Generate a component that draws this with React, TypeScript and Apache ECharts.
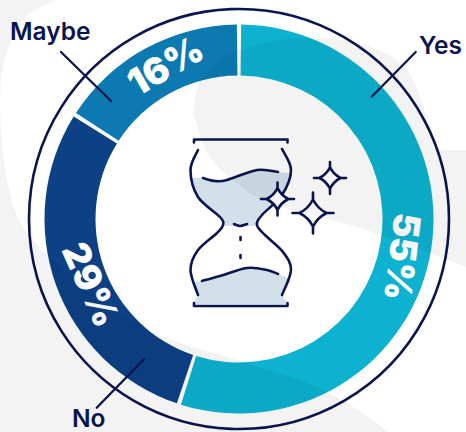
import React, { useEffect, useRef } from "react";
import * as echarts from "echarts";

const categories = ["Yes", "No", "Maybe"];
const shares = [55, 29, 16];
const sliceColors = ["#0cb2d0", "#0c4186", "#0c7ab1"];
const labelTurns = [-97, -66, 30];
const labelNudges = [[-6, 11], [14, 7], [9, -3]];

const INK = "#0b1650";
const SAND = "#d2e0ea";
const VEIL = "rgba(0,0,0,0.047)";

type Pt = [number, number];

// Catmull-Rom curve through the points, as SVG path data.
function curve(points: Pt[], closed = false): string {
  const n = points.length;
  const at = (i: number): Pt => (closed ? points[(i + n) % n] : points[Math.max(0, Math.min(n - 1, i))]);
  let d = `M${points[0][0]} ${points[0][1]}`;
  const last = closed ? n : n - 1;
  for (let i = 0; i < last; i++) {
    const [p0, p1, p2, p3] = [at(i - 1), at(i), at(i + 1), at(i + 2)];
    d += `C${p1[0] + (p2[0] - p0[0]) / 6} ${p1[1] + (p2[1] - p0[1]) / 6} ${p2[0] - (p3[0] - p1[0]) / 6} ${p2[1] - (p3[1] - p1[1]) / 6} ${p2[0]} ${p2[1]}`;
  }
  return closed ? d + "Z" : d;
}
const tail = (points: Pt[]) => curve(points).replace(/^M[^C]*/, "");

// Four-pointed sparkle: concave outline with thin tips.
function sparkle(cx: number, cy: number, r: number): string {
  const k = 0.66 * r;
  const c = 0.22 * r;
  return (
    `M${cx} ${cy - r}L${cx} ${cy - k}Q${cx + c} ${cy - c} ${cx + k} ${cy}L${cx + r} ${cy}L${cx + k} ${cy}` +
    `Q${cx + c} ${cy + c} ${cx} ${cy + k}L${cx} ${cy + r}L${cx} ${cy + k}` +
    `Q${cx - c} ${cy + c} ${cx - k} ${cy}L${cx - r} ${cy}L${cx - k} ${cy}` +
    `Q${cx - c} ${cy - c} ${cx} ${cy - k}Z`
  );
}

// Soft grey backdrop washes, laid over the whole drawing.
const washUpper =
  curve([[193, 112], [200, 80], [218, 63], [240, 50], [297, 38], [363, 45], [407, 70], [430, 127], [437, 150]]) +
  "L466 150L466 267" +
  tail([[466, 267], [360, 228], [270, 203], [233, 180], [207, 153], [193, 112]]) +
  "Z";
const washLower =
  "M0 0L55 0" +
  tail([[55, 0], [23, 20], [3, 67], [1, 130], [10, 193], [27, 233], [73, 277], [143, 328], [240, 361], [299, 380], [329, 393], [366, 415], [388, 432]]) +
  "L0 432Z";

// Hourglass drawing.
const glassLeft: Pt[] = [[198, 150], [190.5, 170], [198, 197], [220, 217], [223, 225], [217, 233], [198, 250], [190.5, 270], [198, 295]];
const glassRight: Pt[] = [[282, 149], [291, 170], [282, 195], [262, 215], [257, 225], [265, 235], [283, 252], [291, 270], [282, 295]];
const waveTop: Pt[] = [[203, 178], [215, 181], [227, 180], [257, 170], [278, 172]];
const waveBottom: Pt[] = [[202, 281], [220, 276], [247, 268], [267, 270], [278, 274]];
const sandTop =
  "M192 178L203 178" +
  tail(waveTop) +
  "L288 173" +
  tail([[288, 173], [291, 175], [282, 195], [262, 215], [257, 225], [248, 226]]) +
  "L233 226" +
  tail([[233, 226], [223, 225], [220, 217], [198, 197], [192, 178]]) +
  "Z";
const sandBottom =
  "M192 282L202 281" +
  tail(waveBottom) +
  "L288 278L291 280L282 295L288 304L193 304L198 295L191 280Z";

const glassOutline =
  curve(glassLeft) +
  curve(glassRight) +
  "M194 142.5L194 139.5L287.5 139.5L287.5 142.5" +
  "M194 303L194 306L287.5 306L287.5 303" +
  curve(waveTop) +
  curve(waveBottom) +
  curve([[234, 224], [240, 226], [247, 224]]) +
  "M240.5 237L240.5 240M240.5 255L240.5 258";

const stars = [sparkle(277.5, 199, 16.5), sparkle(330, 178, 16), sparkle(313, 213, 20.5)];

echarts.graphic.registerShape("washUpper", echarts.graphic.extendPath(washUpper, {}));
echarts.graphic.registerShape("washLower", echarts.graphic.extendPath(washLower, {}));
echarts.graphic.registerShape("sandTop", echarts.graphic.extendPath(sandTop, {}));
echarts.graphic.registerShape("sandBottom", echarts.graphic.extendPath(sandBottom, {}));
echarts.graphic.registerShape("glassOutline", echarts.graphic.extendPath(glassOutline, {}));
stars.forEach((d, i) => echarts.graphic.registerShape(`star${i}`, echarts.graphic.extendPath(d, {})));

const outerLabels = [
  { text: "Yes", x: 419, y: 57.5, from: [415.7, 52], to: [371.7, 96.7] },
  { text: "No", x: 72, y: 430, from: [96.7, 407.7], to: [144, 359.3] },
  { text: "Maybe", x: 10, y: 43.5, from: [61, 52], to: [111, 101] },
];

const stroke = { stroke: INK, lineWidth: 2.6, lineCap: "round", lineJoin: "round" };

// The layout offset acts in the rotated frame of a label, so turn the page offset back.
function labelOffset(index: number) {
  const [dx, dy] = labelNudges[index];
  const t = (labelTurns[index] * Math.PI) / 180;
  return { dx: dx * Math.cos(t) - dy * Math.sin(t), dy: dx * Math.sin(t) + dy * Math.cos(t) };
}

export default function App() {
  const ref = useRef<HTMLDivElement>(null);

  useEffect(() => {
    document.body.style.margin = "0";
    const chart = echarts.init(ref.current!, null, { renderer: "svg" });
    chart.setOption({
      animation: false,
      backgroundColor: "#ffffff",
      series: [
        {
          type: "pie",
          center: [239, 219],
          radius: [143.5, 194.5],
          startAngle: 90,
          padAngle: 1.25,
          silent: true,
          labelLine: { show: false },
          labelLayout: (p: any) => labelOffset(p.dataIndex),
          data: categories.map((name, i) => ({
            name,
            value: shares[i],
            itemStyle: { color: sliceColors[i] },
            label: {
              show: true,
              position: "inside",
              formatter: "{c}%",
              rotate: labelTurns[i],
              color: "#ffffff",
              fontFamily: "Inter",
              fontWeight: 900,
              fontSize: 37,
            },
          })),
        },
      ],
      graphic: [
        { type: "circle", z: 5, shape: { cx: 239, cy: 219, r: 210 }, style: { fill: "none", stroke: INK, lineWidth: 2.6 } },
        ...outerLabels.map((l) => ({
          type: "line",
          z: 6,
          shape: { x1: l.from[0], y1: l.from[1], x2: l.to[0], y2: l.to[1] },
          style: { stroke: INK, lineWidth: 2.3, lineCap: "round" },
        })),
        ...outerLabels.map((l) => ({
          type: "text",
          z: 6,
          x: l.x,
          y: l.y,
          style: {
            text: l.text,
            fill: INK,
            fontFamily: "Inter",
            fontWeight: 600,
            fontSize: 24.5,
            verticalAlign: "bottom",
          },
        })),
        { type: "sandTop", z: 7, x: 0, y: 0, style: { fill: SAND } },
        { type: "sandBottom", z: 7, x: 0, y: 0, style: { fill: SAND } },
        { type: "glassOutline", z: 8, x: 0, y: 0, style: { fill: "none", ...stroke } },
        ...stars.map((_, i) => ({ type: `star${i}`, z: 9, x: 0, y: 0, style: { fill: "#ffffff", ...stroke } })),
        { type: "washUpper", z: 50, x: 0, y: 0, silent: true, style: { fill: VEIL } },
        { type: "washLower", z: 50, x: 0, y: 0, silent: true, style: { fill: VEIL } },
      ],
    });
    return () => chart.dispose();
  }, []);

  return <div ref={ref} style={{ width: 466, height: 432 }} />;
}
